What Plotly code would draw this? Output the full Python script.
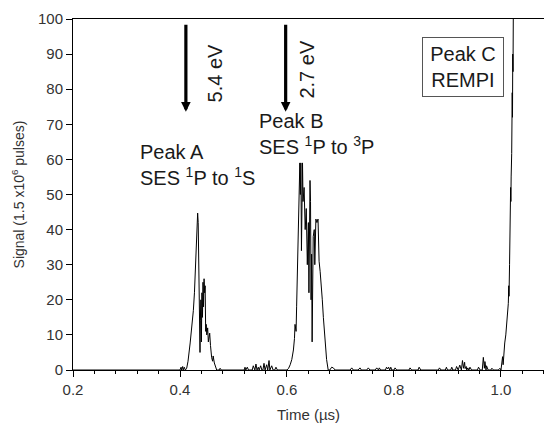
import plotly.graph_objects as go

# ---- data ----
t_base1 = [0.20, 0.300, 0.398]
s_base1 = [0, 0, 0]

t_peak_a = [0.400, 0.402, 0.403, 0.405, 0.406, 0.408, 0.410, 0.4125, 0.415, 0.419, 0.422,
            0.425, 0.427, 0.429, 0.431, 0.432, 0.433, 0.434, 0.435, 0.436, 0.4374, 0.438,
            0.439, 0.440, 0.441, 0.442, 0.443, 0.444, 0.445, 0.446, 0.447, 0.448, 0.449,
            0.450, 0.4517, 0.453, 0.4555, 0.457, 0.458, 0.4592, 0.461, 0.462, 0.4642,
            0.466, 0.4686, 0.470]
s_peak_a = [0, 0.8, 0, 1.0, 0, 0.8, 0, 0.5, 2.5, 7.7, 12,
            17, 22, 29.4, 38, 43, 44.7, 42, 30, 15, 5, 14,
            20, 8, 22, 15, 25, 18, 26, 22, 24, 11, 13,
            10, 12, 8, 10.5, 7, 4, 3.5, 2.5, 4, 2,
            1, 0, 0]

t_base2 = [0.473, 0.475, 0.477, 0.520, 0.5215, 0.523, 0.5258, 0.528, 0.535, 0.537, 0.539,
           0.540, 0.542, 0.544, 0.5464, 0.548, 0.5508, 0.553, 0.555, 0.557, 0.559, 0.562,
           0.564, 0.5664, 0.568, 0.5714, 0.574, 0.577, 0.5794, 0.582, 0.600]
s_base2 = [0, 0.5, 0, 0, 0.8, 0, 0.8, 0, 0, 1.2, 0,
           0, 1.7, 0, 0.8, 0, 1.2, 0, 0, 1.9, 0, 1.5,
           0, 2.7, 0, 1.2, 0, 0, 0.8, 0, 0]

t_peak_b = [0.603, 0.606, 0.609, 0.612, 0.614, 0.615, 0.617, 0.618, 0.619, 0.621, 0.623,
            0.624, 0.625, 0.626, 0.627, 0.628, 0.629, 0.630, 0.632, 0.634, 0.636, 0.638,
            0.640, 0.641, 0.643, 0.644, 0.645, 0.646, 0.647, 0.649, 0.651, 0.652, 0.654,
            0.656, 0.658, 0.660, 0.662, 0.664, 0.666, 0.668, 0.671, 0.674, 0.677]
s_peak_b = [0.5, 1.5, 3, 5.7, 9, 13, 11, 18, 25, 33, 44,
            59, 50, 59, 34, 55, 59, 48, 52, 40, 46, 30,
            42, 22, 54, 48, 20, 33, 8, 38, 40, 30, 43,
            42, 43, 31, 28, 25, 20, 15, 8, 3, 0]

t_base3 = [0.680, 0.6835, 0.6866, 0.690, 0.718, 0.721, 0.724, 0.733, 0.7364, 0.739, 0.749,
           0.752, 0.755, 0.765, 0.7677, 0.771, 0.7725, 0.775, 0.784, 0.786, 0.788, 0.790,
           0.792, 0.794, 0.796, 0.800, 0.802, 0.805, 0.828, 0.830, 0.833, 0.845, 0.847,
           0.850, 0.883, 0.885, 0.888, 0.896, 0.898, 0.900, 0.906, 0.908, 0.910, 0.915,
           0.917, 0.920, 0.923, 0.926, 0.928, 0.930, 0.932, 0.933, 0.935, 0.936, 0.938,
           0.940, 0.942, 0.945, 0.956, 0.958, 0.961, 0.965, 0.967, 0.969, 0.970, 0.972,
           0.973, 0.976, 0.981, 0.983, 0.986, 0.995]
s_base3 = [0, 0.8, 0.6, 0, 0, 0.6, 0, 0, 0.6, 0, 0,
           0.6, 0, 0, 0.6, 0, 0.6, 0, 0, 0.8, 0.3, 0.8,
           0, 0.8, 0, 0, 0.6, 0, 0, 0.6, 0, 0, 0.8,
           0, 0, 0.6, 0, 0, 0.8, 0, 0, 0.8, 0, 0,
           1.0, 0, 1.4, 0, 2.7, 0.5, 2.2, 0.4, 1.0, 0, 0.6,
           0, 0.8, 0, 0, 0.8, 0, 0, 3.6, 0.5, 2.4, 0,
           1.2, 0, 0, 0.5, 0, 0]

t_peak_c = [0.998, 1.000, 1.002, 1.003, 1.004, 1.005, 1.007, 1.009, 1.010, 1.012, 1.0137,
            1.0145, 1.015, 1.016, 1.017, 1.018, 1.0185, 1.019, 1.020, 1.021, 1.0215,
            1.022, 1.0225, 1.023, 1.0235]
s_peak_c = [0.5, 0, 2, 3.8, 1.5, 5, 7.7, 10, 12.3, 16, 19,
            24, 21, 30, 45.6, 52, 48, 55, 61.7, 79, 72,
            90, 85, 100, 130]

x_ticks = [0.2, 0.4, 0.6, 0.8, 1.0]
y_ticks = [0, 10, 20, 30, 40, 50, 60, 70, 80, 90, 100]

time = t_base1 + t_peak_a + t_base2 + t_peak_b + t_base3 + t_peak_c
signal = s_base1 + s_peak_a + s_base2 + s_peak_b + s_base3 + s_peak_c

FONT = "Liberation Sans, Arial, sans-serif"
TXT = "#1a1a1a"

fig = go.Figure()
fig.add_trace(go.Scatter(x=time, y=signal, mode="lines",
                         line=dict(color="black", width=1), showlegend=False,
                         hoverinfo="skip"))

# arrows
for xa in [0.411, 0.5975]:
    fig.add_annotation(x=xa, y=73.6, ax=xa, ay=98.8, xref="x", yref="y",
                       axref="x", ayref="y", text="", showarrow=True,
                       arrowhead=2, arrowsize=0.6, arrowwidth=3.2, arrowcolor="black")

fig.add_annotation(x=0.4654, y=84.5, text="5.4 eV", textangle=-90, showarrow=False,
                   font=dict(family=FONT, size=20, color=TXT))
fig.add_annotation(x=0.6368, y=85.5, text="2.7 eV", textangle=-90, showarrow=False,
                   font=dict(family=FONT, size=20, color=TXT))

fig.add_annotation(x=0.3215, y=58.3, xanchor="left", align="left", showarrow=False,
                   text="Peak A<br>SES <sup>1</sup>P to <sup>1</sup>S",
                   font=dict(family=FONT, size=20, color=TXT))
fig.add_annotation(x=0.5445, y=67.2, xanchor="left", align="left", showarrow=False,
                   text="Peak B<br>SES <sup>1</sup>P to <sup>3</sup>P",
                   font=dict(family=FONT, size=20, color=TXT))
fig.add_annotation(x=0.9286, y=86.3, showarrow=False, align="center",
                   text="Peak C<br>REMPI", width=74, height=52, borderpad=3,
                   bordercolor="#555", borderwidth=1, bgcolor="white",
                   font=dict(family=FONT, size=20, color=TXT))

fig.update_layout(
    width=544, height=427,
    margin=dict(l=73, r=0, t=19, b=57),
    paper_bgcolor="white", plot_bgcolor="white",
    font=dict(family=FONT, color=TXT),
    xaxis=dict(range=[0.2, 1.0804], tickvals=x_ticks, tickformat=".1f",
               showgrid=False, zeroline=False, showline=True, linecolor="black",
               linewidth=1, mirror=True, ticks="outside", ticklen=6, tickwidth=1,
               tickcolor="black", tickfont=dict(size=15, color="#333"),
               minor=dict(dtick=0.04, tick0=0.2, ticks="outside", ticklen=3,
                          tickcolor="black", showgrid=False),
               title=dict(text="Time (\u00b5s)", font=dict(size=15, color="#333"),
                          standoff=12)),
    yaxis=dict(range=[0, 100], tickvals=y_ticks, showgrid=False, zeroline=False,
               showline=True, linecolor="black", linewidth=1, ticks="outside",
               ticklen=6, tickwidth=1, tickcolor="black",
               tickfont=dict(size=15, color="#333"),
               title=dict(text="Signal (1.5 x10<sup>6</sup> pulses)",
                          font=dict(size=14, color="#333"), standoff=10)),
)

fig.write_html("out.html", config={"displayModeBar": False},
               post_script="document.body.style.margin='0';")
